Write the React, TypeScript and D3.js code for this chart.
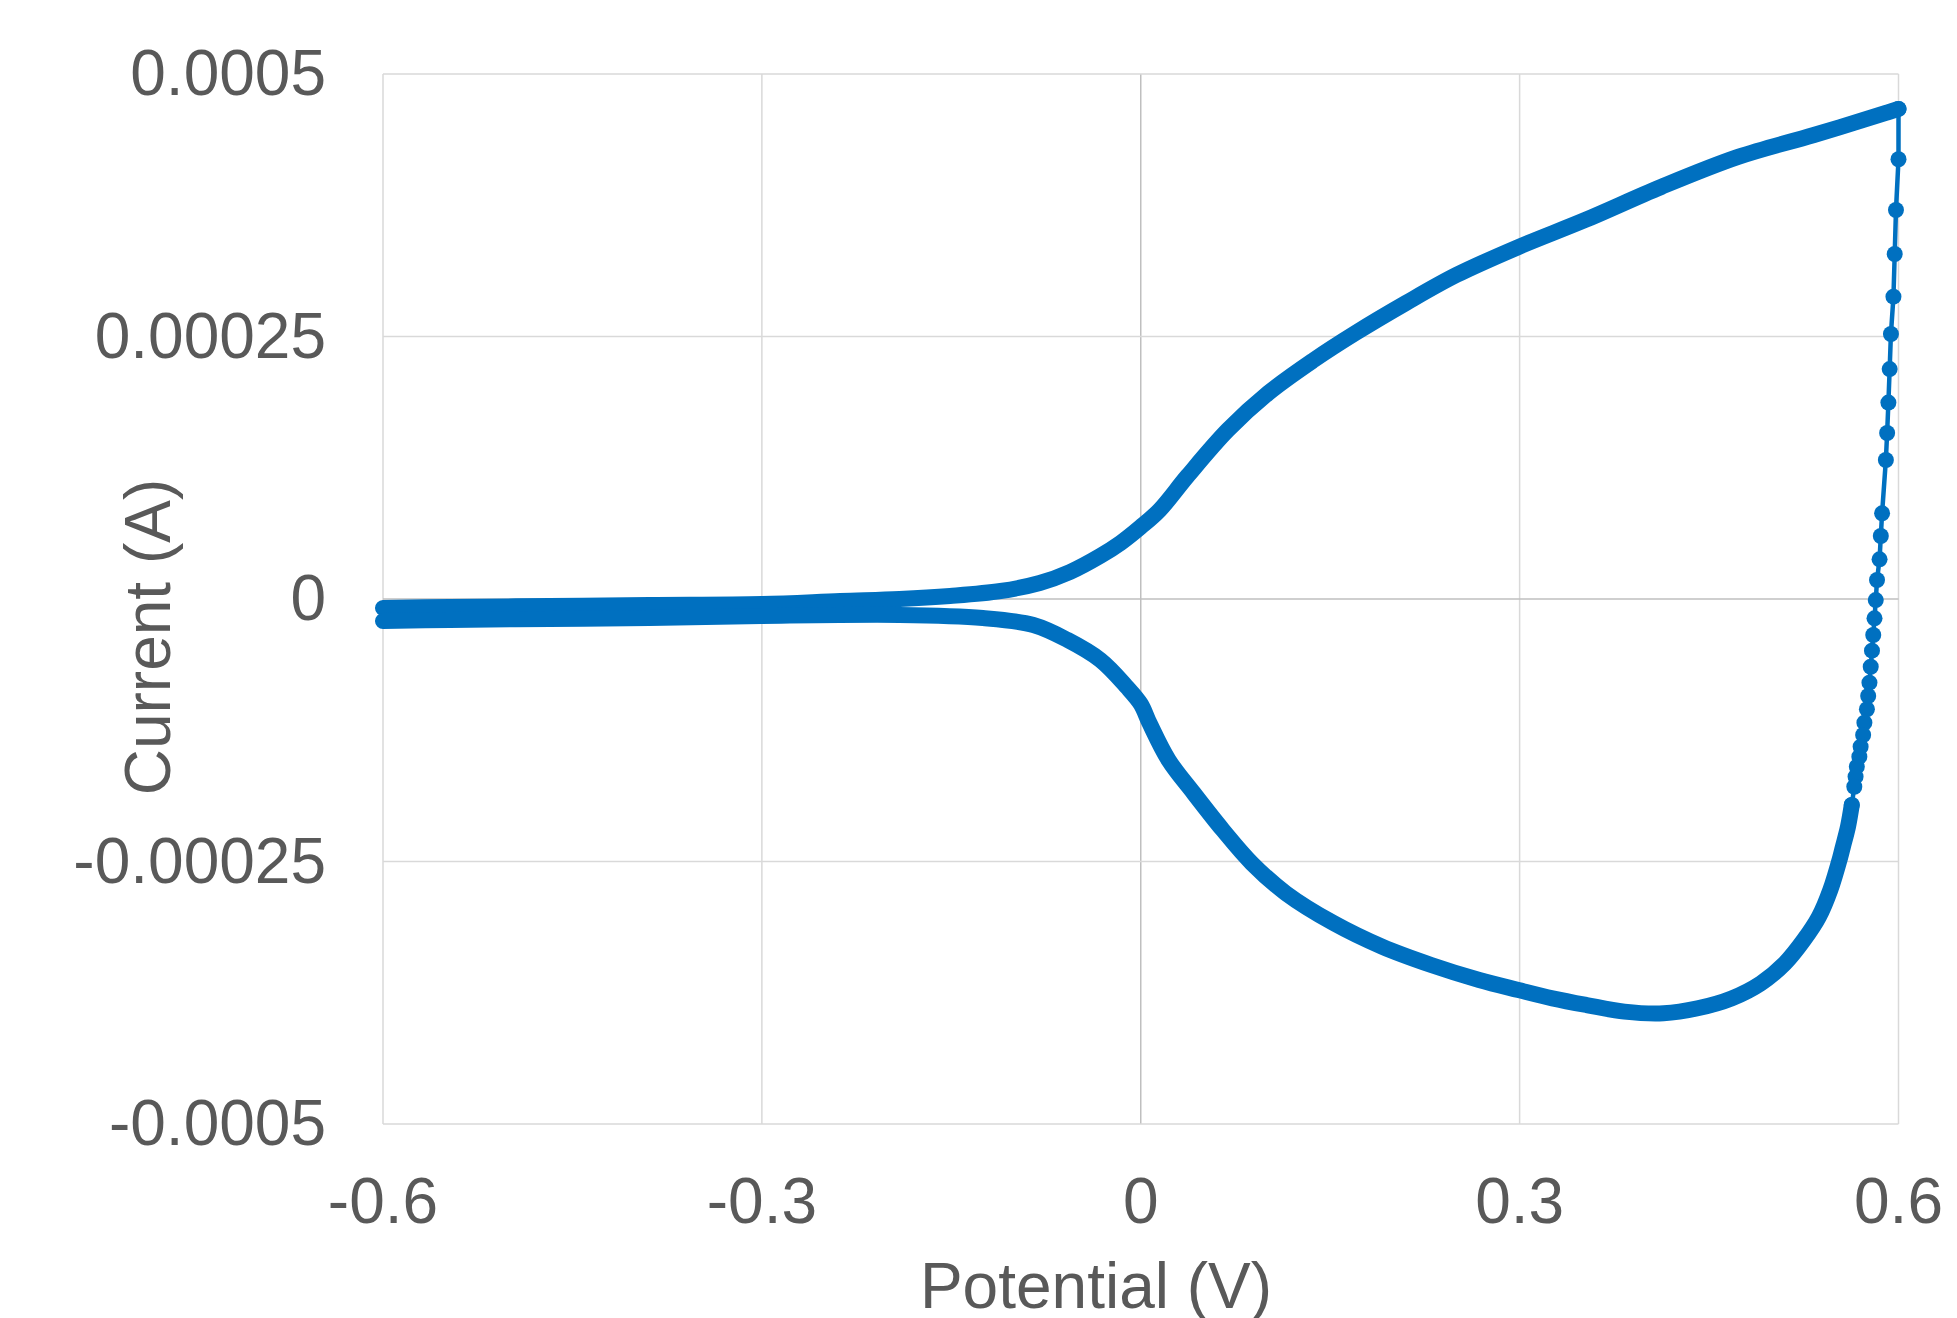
import * as d3 from "d3";

// forward sweep (-0.6 V -> 0.6 V)
const forwardV = [-0.6, -0.547, -0.468, -0.389, -0.3, -0.238, -0.191, -0.151, -0.111, -0.08, -0.056, -0.032, -0.016, 0, 0.015, 0.037, 0.069, 0.101, 0.137, 0.17, 0.21, 0.25, 0.299, 0.352, 0.412, 0.473, 0.533, 0.59, 0.6];
const forwardI = [-0.0000086, -0.0000076, -0.0000067, -0.0000057, -0.0000048, -0.0000019, 0, 0.0000029, 0.0000076, 0.0000152, 0.0000257, 0.000041, 0.0000533, 0.0000686, 0.0000848, 0.0001171, 0.000161, 0.0001962, 0.0002276, 0.0002533, 0.0002819, 0.0003086, 0.0003352, 0.000361, 0.0003924, 0.000421, 0.0004419, 0.0004629, 0.0004667];

// turning points at the vertex, sparse
const turnV = [0.6, 0.6, 0.598, 0.597, 0.596, 0.594, 0.593, 0.592, 0.591, 0.59, 0.587, 0.586, 0.585, 0.583, 0.582, 0.581, 0.58, 0.579, 0.578, 0.577, 0.576, 0.575, 0.573, 0.572, 0.57, 0.569, 0.567, 0.566, 0.565, 0.563];
const turnI = [0.0004667, 0.0004188, 0.0003705, 0.0003286, 0.0002879, 0.0002524, 0.000219, 0.0001871, 0.0001581, 0.0001324, 0.0000816, 0.00006, 0.0000378, 0.0000181, -0.000001, -0.0000184, -0.0000343, -0.0000492, -0.0000645, -0.0000797, -0.0000924, -0.000105, -0.0001178, -0.0001295, -0.0001407, -0.0001502, -0.0001597, -0.0001692, -0.0001788, -0.0001962];

// reverse sweep (0.6 V -> -0.6 V)
const reverseV = [0.563, 0.56, 0.556, 0.554, 0.546, 0.537, 0.525, 0.51, 0.491, 0.468, 0.441, 0.414, 0.383, 0.353, 0.326, 0.299, 0.268, 0.23, 0.191, 0.153, 0.115, 0.088, 0.065, 0.042, 0.022, 0.007, 0, -0.011, -0.032, -0.058, -0.085, -0.125, -0.191, -0.3, -0.389, -0.468, -0.547, -0.6];
const reverseI = [-0.0001962, -0.0002169, -0.0002359, -0.0002454, -0.0002771, -0.0003026, -0.0003248, -0.000347, -0.000366, -0.0003803, -0.0003898, -0.0003946, -0.000393, -0.0003867, -0.0003803, -0.0003724, -0.0003629, -0.0003486, -0.0003311, -0.0003089, -0.0002803, -0.0002517, -0.00022, -0.000185, -0.0001533, -0.0001184, -0.0001, -0.0000838, -0.0000581, -0.000039, -0.0000248, -0.0000181, -0.0000152, -0.0000162, -0.0000181, -0.000019, -0.00002, -0.000021];

const xTicks = [-0.6, -0.3, 0, 0.3, 0.6];
const xTickLabels = ["-0.6", "-0.3", "0", "0.3", "0.6"];
const yTicks = [0.0005, 0.00025, 0, -0.00025, -0.0005];
const yTickLabels = ["0.0005", "0.00025", "0", "-0.00025", "-0.0005"];

const W = 1957;
const H = 1318;
const plot = { left: 383, right: 1898.5, top: 74, bottom: 1124 };
const blue = "#0070C0";
const textColor = "#595959";
const font = "'Liberation Sans', Arial, sans-serif";

const App = () => {
    const x = d3.scaleLinear().domain([-0.6, 0.6]).range([plot.left, plot.right]);
    const y = d3.scaleLinear().domain([-0.0005, 0.0005]).range([plot.bottom, plot.top]);

    const toPts = (vs: number[], is: number[]) => vs.map((v, k) => [v, is[k]] as [number, number]);
    const smooth = d3.line<[number, number]>().x(d => x(d[0])).y(d => y(d[1])).curve(d3.curveCatmullRom.alpha(0.5));
    const straight = d3.line<[number, number]>().x(d => x(d[0])).y(d => y(d[1]));

    const fwd = toPts(forwardV, forwardI);
    const turn = toPts(turnV, turnI);
    const rev = toPts(reverseV, reverseI);

    return (
        <svg width={W} height={H} style={{ position: "absolute", left: 0, top: 0, background: "#fff" }}>
            {/* grid */}
            {xTicks.map(t => (
                <line key={"gx" + t} x1={x(t)} x2={x(t)} y1={plot.top} y2={plot.bottom}
                    stroke={t === 0 ? "#bfbfbf" : "#d9d9d9"} strokeWidth={1.5} />
            ))}
            {yTicks.map(t => (
                <line key={"gy" + t} x1={plot.left} x2={plot.right} y1={y(t)} y2={y(t)}
                    stroke={t === 0 ? "#bfbfbf" : "#d9d9d9"} strokeWidth={1.5} />
            ))}

            {/* y tick labels */}
            {yTicks.map((t, k) => (
                <text key={"ty" + t} x={326} y={y(t) + 21} textAnchor="end"
                    fontFamily={font} fontSize={64} fill={textColor}>{yTickLabels[k]}</text>
            ))}
            {/* x tick labels */}
            {xTicks.map((t, k) => (
                <text key={"tx" + t} x={x(t)} y={1223} textAnchor="middle"
                    fontFamily={font} fontSize={64} fill={textColor}>{xTickLabels[k]}</text>
            ))}

            {/* axis titles */}
            <text x={1096} y={1308} textAnchor="middle" fontFamily={font} fontSize={64} fill={textColor}>Potential (V)</text>
            <text transform="translate(170, 637) rotate(-90)" textAnchor="middle" fontFamily={font} fontSize={64} fill={textColor}>Current (A)</text>

            {/* dense sweeps: overlapping markers read as a thick band */}
            <path d={smooth(fwd) || ""} fill="none" stroke={blue} strokeWidth={16} strokeLinejoin="round" strokeLinecap="round" />
            <path d={smooth(rev) || ""} fill="none" stroke={blue} strokeWidth={16} strokeLinejoin="round" strokeLinecap="round" />

            {/* sparse turn with line and markers */}
            <path d={straight(turn) || ""} fill="none" stroke={blue} strokeWidth={4.5} />
            {turn.map((d, k) => (
                <circle key={"m" + k} cx={x(d[0])} cy={y(d[1])} r={8} fill={blue} />
            ))}
        </svg>
    );
};

export default App;
